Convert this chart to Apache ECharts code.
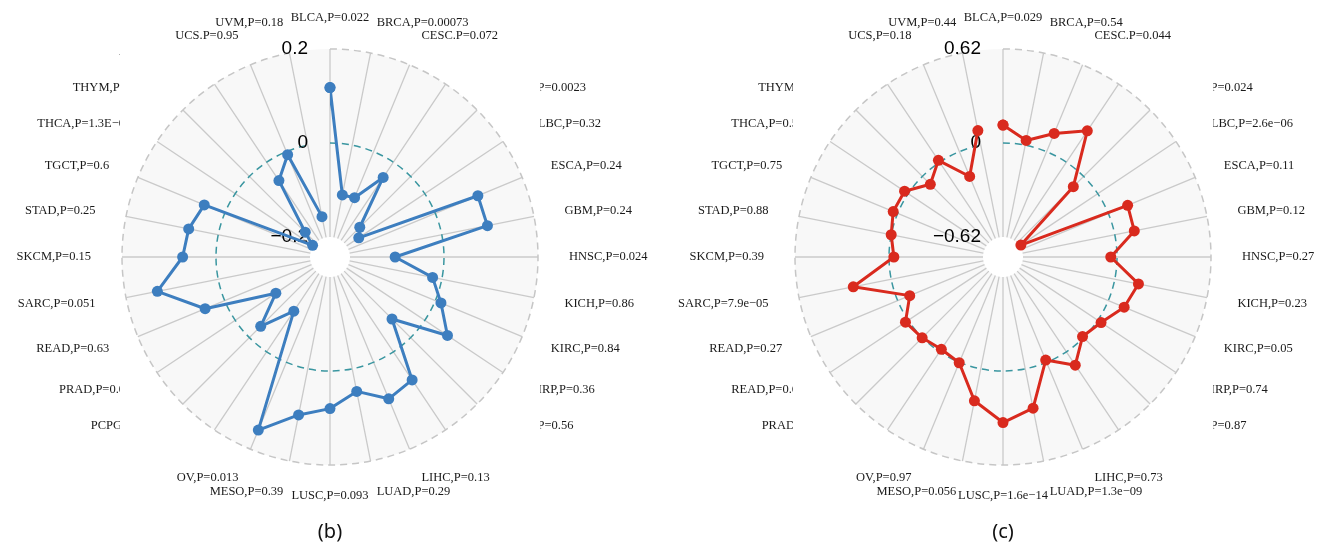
<!DOCTYPE html>
<html>
<head>
<meta charset="utf-8">
<script src="https://cdn.jsdelivr.net/npm/echarts@6/dist/echarts.min.js"></script>
<style>
  html, body { margin: 0; padding: 0; background: #ffffff; }
  #chart { width: 1319px; height: 543px; }
</style>
</head>
<body>
<div id="chart"></div>
<script>
// Panel (b): cancer type labels with P values, clockwise from the top
const labelsB = [
  'BLCA,P=0.022', 'BRCA,P=0.00073', 'CESC.P=0.072', 'CHOL,P=0.41', 'COAD,P=0.0023',
  'DLBC,P=0.32', 'ESCA,P=0.24', 'GBM,P=0.24', 'HNSC,P=0.024', 'KICH,P=0.86',
  'KIRC,P=0.84', 'KIRP,P=0.36', 'LAML,P=0.56', 'LGG,P=0.17', 'LIHC,P=0.13',
  'LUAD,P=0.29', 'LUSC,P=0.093', 'MESO,P=0.39', 'OV,P=0.013', 'PAAD,P=0.46',
  'PCPG,P=0.71', 'PRAD,P=0.02', 'READ,P=0.63', 'SARC,P=0.051', 'SKCM,P=0.15',
  'STAD,P=0.25', 'TGCT,P=0.6', 'THCA,P=1.3E\u221205', 'THYM,P=0.0015', 'UCEC,P=0.027',
  'UCS.P=0.95', 'UVM,P=0.18'
];
const valuesB = [
  0.118, -0.108, -0.106, -0.039, -0.153, -0.169, 0.098, 0.099, -0.104, -0.020,
  0.013, 0.058, -0.056, 0.072, 0.084, 0.049, 0.080, 0.100, 0.156, -0.104,
  -0.034, -0.104, 0.045, 0.132, 0.071, 0.064, 0.047, -0.198, -0.168, -0.047,
  -0.007, -0.155
];
const ticksB = [-0.2, 0, 0.2];

// Panel (c)
const labelsC = [
  'BLCA,P=0.029', 'BRCA,P=0.54', 'CESC.P=0.044', 'CHOL,P=0.33', 'COAD,P=0.024',
  'DLBC,P=2.6e\u221206', 'ESCA,P=0.11', 'GBM,P=0.12', 'HNSC,P=0.27', 'KICH,P=0.23',
  'KIRC,P=0.05', 'KIRP,P=0.74', 'LAML,P=0.87', 'LGG,P=0.19', 'LIHC,P=0.73',
  'LUAD,P=1.3e\u221209', 'LUSC,P=1.6e\u221214', 'MESO,P=0.056', 'OV,P=0.97', 'PAAD,P=0.62',
  'PRAD,P=0.41', 'READ,P=0.64', 'READ,P=0.27', 'SARC,P=7.9e\u221205', 'SKCM,P=0.39',
  'STAD,P=0.88', 'TGCT,P=0.75', 'THCA,P=0.52', 'THYM,P=0.36', 'UCEC,P=0.48',
  'UCS,P=0.18', 'UVM,P=0.44'
];
const valuesC = [
  0.118, 0.032, 0.130, 0.249, -0.096, -0.610, 0.138, 0.131, -0.041, 0.159,
  0.113, 0.026, -0.010, 0.106, -0.016, 0.265, 0.340, 0.215, 0.003, -0.020,
  0.002, 0.022, -0.086, 0.255, -0.032, 0.000, 0.032, 0.029, -0.074, 0.015,
  -0.177, 0.098
];
const ticksC = [-0.62, 0, 0.62];

const panelTitles = ['(b)', '(c)'];

const chart = echarts.init(document.getElementById('chart'), null, { renderer: 'canvas' });

const CENTERS = [[330, 257], [1003, 257]];
const R_IN = 20, R_OUT = 208, R_LABEL = 239, PANEL_HALF = 210;
const SERIF = '"Liberation Serif", "DejaVu Serif", serif';
const SANS = '"Liberation Sans", Arial, sans-serif';

function tickText(v) {
  if (Math.abs(v) < 1e-9) return '0';
  return String(+v.toFixed(2)).replace('-', '\u2212');
}

const polar = [], angleAxis = [], radiusAxis = [], series = [], graphics = [];

function addPanel(i, labels, values, ticks, color) {
  const c = CENTERS[i];
  polar.push({ center: c, radius: [R_IN, R_OUT] });
  angleAxis.push({
    polarIndex: i,
    type: 'category',
    data: labels,
    startAngle: 90,
    clockwise: true,
    boundaryGap: false,
    z: 1,
    axisLine: { show: false },
    axisTick: { show: false, interval: 0 },
    axisLabel: { show: false, interval: 0 },
    splitLine: { show: true, interval: 0, lineStyle: { color: '#cacaca', width: 1.3 } },
    splitArea: { show: false }
  });
  radiusAxis.push({
    polarIndex: i,
    type: 'value',
    min: ticks[0],
    max: ticks[2],
    interval: ticks[2],
    z: 2,
    axisLine: { show: false },
    axisTick: { show: false },
    axisLabel: {
      show: true, margin: 22, color: '#000', fontSize: 19, fontFamily: SANS,
      showMinLabel: true, showMaxLabel: true,
      formatter: tickText
    },
    splitLine: {
      show: true,
      lineStyle: { color: ['rgba(0,0,0,0)', '#3a96a0', '#c6c6c6'], width: 1.5, type: [7, 5] }
    }
  });
  // closed outline: repeat the first category after the last
  const pts = values.map((v, k) => [v, k]);
  pts.push([values[0], 0]);
  series.push({
    type: 'line',
    coordinateSystem: 'polar',
    polarIndex: i,
    data: pts,
    z: 5,
    symbol: 'circle',
    symbolSize: 11,
    lineStyle: { color: color, width: 3 },
    itemStyle: { color: color },
    animation: false
  });

  // category labels around the panel
  const n = labels.length;
  labels.forEach((txt, k) => {
    const a = (90 - k * 360 / n) * Math.PI / 180;
    const cs = Math.cos(a);
    const align = cs > 0.01 ? 'left' : (cs < -0.01 ? 'right' : 'center');
    graphics.push({
      type: 'text', z: -10,
      x: c[0] + R_LABEL * cs,
      y: c[1] - R_LABEL * Math.sin(a),
      style: { text: txt, font: '12.5px ' + SERIF, fill: '#1a1a1a', align: align, verticalAlign: 'middle' }
    });
  });
  // white plotting panel drawn over the label layer
  graphics.push({
    type: 'rect', z: -5,
    shape: { x: c[0] - PANEL_HALF, y: c[1] - PANEL_HALF, width: 2 * PANEL_HALF, height: 2 * PANEL_HALF },
    style: { fill: '#ffffff' }
  });
  // light ring behind the spokes
  graphics.push({
    type: 'ring', z: -4,
    shape: { cx: c[0], cy: c[1], r: R_OUT, r0: R_IN },
    style: { fill: '#f8f8f8' }
  });
  graphics.push({
    type: 'text', z: 1,
    x: c[0], y: 532,
    style: { text: panelTitles[i], font: '20px "Noto Sans", sans-serif', fill: '#111', align: 'center', verticalAlign: 'middle' }
  });
}

addPanel(0, labelsB, valuesB, ticksB, '#3d7ebf');
addPanel(1, labelsC, valuesC, ticksC, '#d92a1e');

chart.setOption({
  animation: false,
  backgroundColor: '#ffffff',
  polar: polar,
  angleAxis: angleAxis,
  radiusAxis: radiusAxis,
  series: series,
  graphic: { elements: graphics }
});
</script>
</body>
</html>
